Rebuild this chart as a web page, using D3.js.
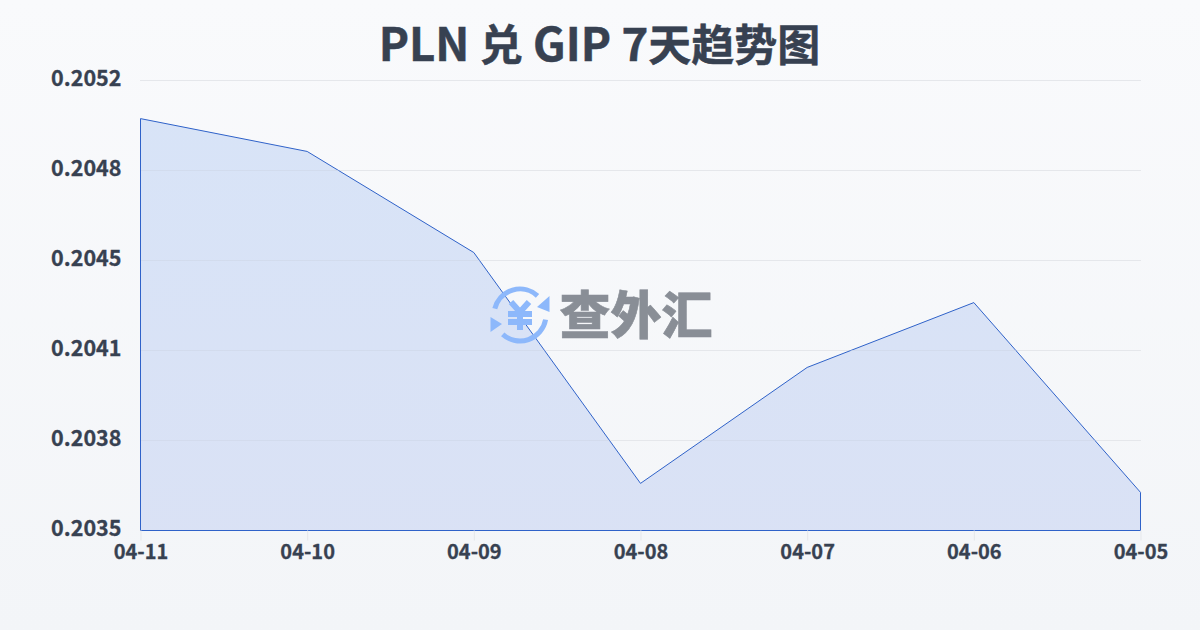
<!DOCTYPE html>
<html><head><meta charset="utf-8">
<script src="https://cdn.jsdelivr.net/npm/d3@7/dist/d3.min.js"></script>
<style>html,body{margin:0;padding:0;background:#f9fafc}svg{display:block}</style>
</head><body><svg id="c" width="1200" height="630"></svg>
<script>
const titleText = "PLN 兑 GIP 7天趋势图";
const dates = ["04-11","04-10","04-09","04-08","04-07","04-06","04-05"];
const rates = [0.205026,0.204902,0.20452,0.203648,0.204086,0.204331,0.203614];
const yTicks = [0.20347,0.20381,0.20415,0.20449,0.20483,0.20517];
const yDomain = [0.20347,0.20517];
const watermark = "查外汇";

const svg = d3.select("#c");
const defs = svg.append("defs");
const bg = defs.append("linearGradient").attr("id","bg").attr("x1",0).attr("y1",0).attr("x2",0).attr("y2",1);
bg.append("stop").attr("offset",0).attr("stop-color","#f9fafc");
bg.append("stop").attr("offset",1).attr("stop-color","#f3f5f8");
const ag = defs.append("linearGradient").attr("id","ag").attr("gradientUnits","userSpaceOnUse").attr("x1",0).attr("y1",118).attr("x2",0).attr("y2",530);
ag.append("stop").attr("offset",0).attr("stop-color","#d7e3f7");
ag.append("stop").attr("offset",1).attr("stop-color","#d9e1f5");
svg.append("rect").attr("width",1200).attr("height",630).attr("fill","url(#bg)");

const x = d3.scalePoint().domain(dates).range([140.5,1140.5]);
const y = d3.scaleLinear().domain(yDomain).range([530.5,80.5]);
const cjk = "'Noto Sans CJK SC','Noto Sans',sans-serif";
const ink = "#374151";

const title = svg.append("text").attr("x",599.5).attr("y",61).attr("text-anchor","middle")
  .attr("font-family",cjk).attr("font-weight",700).attr("fill",ink).attr("stroke",ink).attr("stroke-width",0.5);
title.selectAll("tspan").data(titleText.match(/[\x00-\x7f]+|[^\x00-\x7f]+/g)).join("tspan")
  .attr("font-size",d=>/[\x00-\x7f]/.test(d)?45.5:43).text(d=>d);

svg.append("g").selectAll("line").data(yTicks).join("line")
  .attr("x1",140).attr("x2",1141).attr("y1",d=>y(d)).attr("y2",d=>y(d))
  .attr("stroke","#e5e7eb").attr("stroke-width",1);

const area = d3.area().x((d,i)=>x(dates[i])).y0(y(yDomain[0])).y1(d=>y(d));
svg.append("path").datum(rates).attr("d",area).attr("fill","url(#ag)").attr("fill-opacity",0.97)
  .attr("stroke","#2f62c9").attr("stroke-width",1);
defs.append("clipPath").attr("id","areaClip").append("path").datum(rates).attr("d",area);
svg.append("g").selectAll("line").data(yTicks.slice(1)).join("line")
  .attr("x1",141).attr("x2",1140).attr("y1",d=>y(d)).attr("y2",d=>y(d))
  .attr("stroke","#cfd8e8").attr("stroke-width",1).attr("opacity",0.6)
  .attr("clip-path","url(#areaClip)");

const axisX = d3.axisBottom(x).tickSize(10).tickPadding(4);
const gx = svg.append("g").attr("transform","translate(0,530.5)").call(axisX);
gx.select(".domain").remove();
gx.selectAll("line").attr("stroke","#e5e7eb");
gx.selectAll("text").attr("font-family",cjk).attr("font-weight",700).attr("font-size",20).attr("fill",ink).attr("stroke",ink).attr("stroke-width",0.3);

const fmt = d3.format(".4f");
svg.append("g").selectAll("text").data(yTicks).join("text")
  .attr("x",121.5).attr("y",d=>y(d)).attr("dy","-0.02em").attr("dominant-baseline","middle")
  .attr("text-anchor","end").attr("font-family",cjk).attr("font-weight",700).attr("font-size",21.5).attr("fill",ink).attr("stroke",ink).attr("stroke-width",0.3)
  .text(d=>fmt(d));

const wm = svg.append("g");
const ic = wm.append("g").attr("transform","translate(520,315)").attr("fill","none").attr("stroke","#8db8fb").attr("stroke-width",5);
ic.append("path").attr("d",d3.arc()({innerRadius:26,outerRadius:26,startAngle:-1.32,endAngle:0.74})).attr("stroke-linecap","round");
ic.append("path").attr("d",d3.arc()({innerRadius:26,outerRadius:26,startAngle:1.75,endAngle:3.87})).attr("stroke-linecap","round");
ic.append("path").attr("d","M29.5,-19 L29.5,-3 L17,-8 Z M-29.5,2 L-29.5,17 L-18,9 Z").attr("fill","#8db8fb").attr("stroke","none");
ic.append("path").attr("d","M-9,-13 L0,-3 L9,-13 M-12,-1 H12 M-12,7 H12 M0,-3 V15").attr("stroke-width",6);
wm.append("text").attr("x",636).attr("y",334).attr("text-anchor","middle").attr("font-family",cjk).attr("font-weight",900)
  .attr("font-size",51).attr("fill","#898e96").attr("stroke","#898e96").attr("stroke-width",0.6).text(watermark);
</script></body></html>
